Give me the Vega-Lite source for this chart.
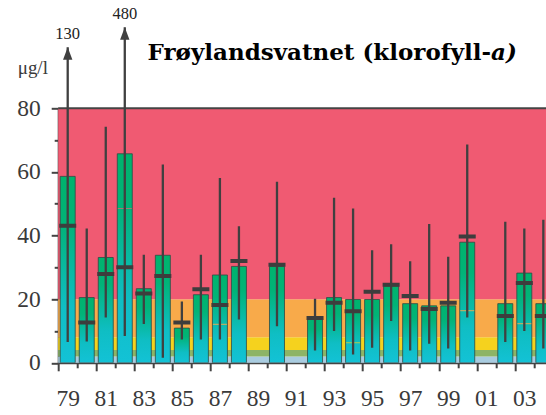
{
  "$schema": "https://vega.github.io/schema/vega-lite/v6.json",
  "width": 488,
  "height": 254.5,
  "autosize": {"type": "none"},
  "padding": {"left": 58.2, "top": 108.3, "right": 0, "bottom": 52.2},
  "background": "white",
  "config": {"view": {"stroke": null}, "font": "Liberation Serif"},
  "datasets": {
    "bands": [
      {"lo": 0, "hi": 2, "klasse": "I"},
      {"lo": 2, "hi": 4, "klasse": "II"},
      {"lo": 4, "hi": 8, "klasse": "III"},
      {"lo": 8, "hi": 20, "klasse": "IV"},
      {"lo": 20, "hi": 80, "klasse": "V"}
    ],
    "obs": [
      {"year": 1979, "mean": 58.6, "median": 43.1, "min": 6.5, "max": 130},
      {"year": 1980, "mean": 20.5, "median": 12.7, "min": 6.7, "max": 42.2},
      {"year": 1981, "mean": 33.1, "median": 27.9, "min": 14.2, "max": 74.2},
      {"year": 1982, "mean": 65.7, "median": 30.0, "min": 8.4, "max": 480, "inner": 48.5},
      {"year": 1983, "mean": 23.3, "median": 21.8, "min": 12.2, "max": 34.0},
      {"year": 1984, "mean": 33.8, "median": 27.3, "min": 1.6, "max": 62.3},
      {"year": 1985, "mean": 10.9, "median": 12.7, "min": 7.3, "max": 19.3},
      {"year": 1986, "mean": 21.4, "median": 23.1, "min": 7.3, "max": 34.0},
      {"year": 1987, "mean": 27.6, "median": 18.2, "min": 7.3, "max": 58.1, "inner": 12.1},
      {"year": 1988, "mean": 30.3, "median": 32.0, "min": 13.6, "max": 42.9},
      {"year": 1990, "mean": 30.3, "median": 30.8, "min": 11.5, "max": 56.9},
      {"year": 1992, "mean": 14.2, "median": 14.1, "min": 3.9, "max": 20.1},
      {"year": 1993, "mean": 20.5, "median": 18.9, "min": 10.0, "max": 51.9},
      {"year": 1994, "mean": 19.9, "median": 16.2, "min": 2.6, "max": 48.5, "inner": 6.3},
      {"year": 1995, "mean": 19.9, "median": 22.3, "min": 4.7, "max": 35.4},
      {"year": 1996, "mean": 24.1, "median": 24.5, "min": 13.1, "max": 37.3},
      {"year": 1997, "mean": 18.6, "median": 21.0, "min": 3.9, "max": 31.9},
      {"year": 1998, "mean": 17.9, "median": 16.9, "min": 6.0, "max": 43.6},
      {"year": 1999, "mean": 17.9, "median": 18.9, "min": 4.5, "max": 33.3},
      {"year": 2000, "mean": 37.9, "median": 39.7, "min": 14.2, "max": 68.6, "inner": 16.4},
      {"year": 2002, "mean": 18.6, "median": 14.7, "min": 6.5, "max": 44.3},
      {"year": 2003, "mean": 28.2, "median": 25.1, "min": 10.0, "max": 42.2, "inner": 12.3},
      {"year": 2004, "mean": 18.6, "median": 14.7, "min": 4.5, "max": 45.0}
    ],
    "arrows": [
      {"year": 1979, "min": 6.5, "label": "130", "tip": 99.2},
      {"year": 1982, "min": 8.4, "label": "480", "tip": 105.5}
    ]
  },
  "layer": [
    {
      "data": {"name": "bands"},
      "mark": {"type": "rect"},
      "encoding": {
        "y": {
          "field": "lo", "type": "quantitative",
          "scale": {"domain": [0, 80], "nice": false, "zero": false, "padding": 0},
          "axis": {
            "title": "μg/l", "titleAngle": 0, "titleAlign": "left", "titleBaseline": "alphabetic",
            "titleX": -41, "titleY": -35, "titleFont": "Liberation Serif", "titleFontSize": 19,
            "titleFontWeight": "normal", "titleColor": "#3a3a3a",
            "values": [0, 10, 20, 30, 40, 50, 60, 70, 80], "tickCount": 100,
            "labelExpr": "datum.value % 20 == 0 ? datum.label : ''",
            "labelFont": "Liberation Serif", "labelFontSize": 23.5, "labelColor": "#3a3a3a",
            "labelPadding": 11, "labelOverlap": false, "labelFlush": false,
            "tickSize": {"condition": {"test": "datum.value % 20 == 0", "value": 7}, "value": 4},
            "tickColor": "#444444", "tickWidth": 2,
            "domainColor": "#444444", "domainWidth": 2, "grid": false
          }
        },
        "y2": {"field": "hi"},
        "color": {
          "field": "klasse", "type": "nominal",
          "scale": {"domain": ["I", "II", "III", "IV", "V"], "range": ["#A9CCE0", "#8DB466", "#F5D21E", "#F8AA4A", "#F05A72"]},
          "legend": null
        }
      }
    },
    {
      "data": {"values": [{}]},
      "mark": {"type": "rule", "color": "#444444", "strokeWidth": 2, "clip": false},
      "encoding": {"y": {"datum": 80, "type": "quantitative"}}
    },
    {
      "data": {"name": "obs"},
      "mark": {
        "type": "bar", "width": 15, "clip": true,
        "stroke": "#2f4a44", "strokeWidth": 1, "strokeOpacity": 0.8,
        "fill": {
          "gradient": "linear", "x1": 0, "y1": 0, "x2": 0, "y2": 1,
          "stops": [
            {"offset": 0, "color": "#00B36D"},
            {"offset": 0.25, "color": "#01B377"},
            {"offset": 0.7, "color": "#0FBEC4"},
            {"offset": 1, "color": "#13C2D6"}
          ]
        }
      },
      "encoding": {
        "x": {
          "field": "year", "type": "quantitative",
          "scale": {"domain": [1978.5, 2004.15], "nice": false, "zero": false, "padding": 0},
          "axis": {
            "title": null,
            "values": [1978.5, 1979, 1979.5, 1980.5, 1981, 1981.5, 1982.5, 1983, 1983.5, 1984.5, 1985, 1985.5, 1986.5, 1987, 1987.5, 1988.5, 1989, 1989.5, 1990.5, 1991, 1991.5, 1992.5, 1993, 1993.5, 1994.5, 1995, 1995.5, 1996.5, 1997, 1997.5, 1998.5, 1999, 1999.5, 2000.5, 2001, 2001.5, 2002.5, 2003, 2003.5],
            "tickCount": 100,
            "labelExpr": "datum.value % 1 == 0 ? slice(toString(datum.value), 2) : ''",
            "labelFont": "Liberation Serif", "labelFontSize": 23.5, "labelColor": "#3a3a3a",
            "labelPadding": 19, "labelOverlap": false, "labelFlush": false,
            "tickOpacity": {"condition": {"test": "datum.value % 1 == 0", "value": 0}, "value": 1},
            "tickSize": {"condition": {"test": "(datum.value + 0.5) % 2 == 1", "value": 8}, "value": 5},
            "tickColor": "#444444", "tickWidth": 2,
            "domainColor": "#444444", "domainWidth": 2, "grid": false
          }
        },
        "y": {"field": "mean", "type": "quantitative"}
      }
    },
    {
      "data": {"name": "obs"},
      "transform": [{"filter": "isValid(datum.inner)"}],
      "mark": {"type": "tick", "orient": "horizontal", "size": 14, "thickness": 1.2, "clip": true},
      "encoding": {
        "x": {"field": "year", "type": "quantitative"},
        "y": {"field": "inner", "type": "quantitative"},
        "color": {
          "field": "inner", "type": "quantitative",
          "scale": {"type": "threshold", "domain": [2, 4, 8, 20], "range": ["#A9CCE0", "#8DB466", "#F5D21E", "#F8AA4A", "#F05A72"]},
          "legend": null
        }
      }
    },
    {
      "data": {"name": "obs"},
      "transform": [{"filter": "datum.max <= 80"}],
      "mark": {"type": "rule", "color": "#404040", "strokeWidth": 2.3, "clip": true},
      "encoding": {
        "x": {"field": "year", "type": "quantitative"},
        "y": {"field": "min", "type": "quantitative"},
        "y2": {"field": "max"}
      }
    },
    {
      "data": {"name": "arrows"},
      "mark": {"type": "rule", "color": "#404040", "strokeWidth": 2.3, "clip": false},
      "encoding": {
        "x": {"field": "year", "type": "quantitative"},
        "y": {"field": "min", "type": "quantitative"},
        "y2": {"field": "tip"}
      }
    },
    {
      "data": {"name": "arrows"},
      "mark": {"type": "point", "filled": true, "color": "#404040", "opacity": 1, "size": 144, "shape": "M0,0L0.78,2.1L-0.78,2.1Z", "clip": false},
      "encoding": {
        "x": {"field": "year", "type": "quantitative"},
        "y": {"field": "tip", "type": "quantitative"}
      }
    },
    {
      "data": {"name": "arrows"},
      "mark": {"type": "text", "font": "Liberation Serif", "fontSize": 16.5, "color": "#222222", "baseline": "alphabetic", "align": "center", "dy": -8.5, "clip": false},
      "encoding": {
        "x": {"field": "year", "type": "quantitative"},
        "y": {"field": "tip", "type": "quantitative"},
        "text": {"field": "label"}
      }
    },
    {
      "data": {"name": "obs"},
      "mark": {"type": "tick", "orient": "horizontal", "size": 17, "thickness": 4, "color": "#3d3d3d", "opacity": 1, "clip": true},
      "encoding": {
        "x": {"field": "year", "type": "quantitative"},
        "y": {"field": "median", "type": "quantitative"}
      }
    },
    {
      "data": {"values": [{}]},
      "mark": {"type": "text", "text": "Frøylandsvatnet (klorofyll-", "font": "DejaVu Serif", "fontSize": 23, "fontWeight": "bold", "color": "#000000", "align": "right", "baseline": "alphabetic", "clip": false},
      "encoding": {
        "x": {"datum": 2001.25, "type": "quantitative"},
        "y": {"datum": 95.1, "type": "quantitative"}
      }
    },
    {
      "data": {"values": [{}]},
      "mark": {"type": "text", "text": "a)", "font": "DejaVu Serif", "fontSize": 23, "fontWeight": "bold", "fontStyle": "italic", "color": "#000000", "align": "left", "baseline": "alphabetic", "clip": false},
      "encoding": {
        "x": {"datum": 2001.25, "type": "quantitative"},
        "y": {"datum": 95.1, "type": "quantitative"}
      }
    }
  ],
  "resolve": {"scale": {"color": "independent"}}
}
